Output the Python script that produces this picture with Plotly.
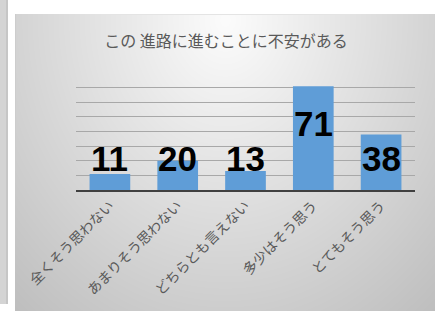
import base64
import struct
import zlib

import numpy as np
import plotly.graph_objects as go

# ---------------- data ----------------
categories = ["全くそう思わない", "あまりそう思わない", "どちらとも言えない", "多少はそう思う", "とてもそう思う"]
values = [11, 20, 13, 71, 38]
title_text = "この 進路に進むことに不安がある"

# label anchor heights (data units) as placed in the original chart
label_y = [21.5, 21.5, 21.5, 45.5, 21.5]

# ---------------- geometry ----------------
W, H = 438, 311
L, R, T, B = 76, 23, 73, 121
pw, ph = W - L - R, H - T - B


def png_data_uri(rgb):
    h, w, _ = rgb.shape
    raw = b"".join(b"\x00" + rgb[i].tobytes() for i in range(h))

    def chunk(tag, data):
        c = struct.pack(">I", len(data)) + tag + data
        return c + struct.pack(">I", zlib.crc32(tag + data) & 0xFFFFFFFF)

    png = b"\x89PNG\r\n\x1a\n"
    png += chunk(b"IHDR", struct.pack(">IIBBBBB", w, h, 8, 2, 0, 0, 0))
    png += chunk(b"IDAT", zlib.compress(raw, 9))
    png += chunk(b"IEND", b"")
    return "data:image/png;base64," + base64.b64encode(png).decode()


# background canvas: left grey strip, white gap, gradient panel
canvas = np.full((H, W), 255.0)
canvas[0:304, 0:8] = 212.0
canvas[0:304, 6:8] = 198.0
px0, py0, px1, py1 = 15, 14, 435, H
yy, xx = np.mgrid[0:py1 - py0, 0:px1 - px0]
nx = xx / (px1 - px0) - 0.5
ny = yy / (py1 - py0) - 0.02
d = np.sqrt((nx / 0.62) ** 2 + (ny / 1.05) ** 2)
panel = 252 - 50 * d
canvas[py0:py1, px0:px1] = panel
canvas[py0, px0:px1] = np.minimum(canvas[py0, px0:px1], 228)
canvas[py0:py1, px0] = np.minimum(canvas[py0:py1, px0], 205)
rgb = np.clip(canvas, 0, 255).astype(np.uint8)
rgb = np.stack([rgb, rgb, rgb], axis=-1)
bg_uri = png_data_uri(rgb)

fig = go.Figure()
fig.add_trace(
    go.Bar(
        x=categories,
        y=values,
        marker=dict(color="#5f9dd7", line=dict(width=0)),
        width=0.6,
        hoverinfo="x+y",
    )
)

for c, v, ly in zip(categories, values, label_y):
    fig.add_annotation(
        x=c, y=ly, text=str(v), showarrow=False, yanchor="middle",
        font=dict(family="Liberation Sans", size=35, color="#000000", weight="bold"),
    )

fig.add_layout_image(
    dict(
        source=bg_uri,
        xref="paper", yref="paper",
        x=-L / pw, y=1 + T / ph,
        sizex=W / pw, sizey=H / ph,
        xanchor="left", yanchor="top",
        sizing="stretch", layer="below",
    )
)

fig.update_layout(
    width=W, height=H,
    margin=dict(l=L, r=R, t=T, b=B, autoexpand=False),
    paper_bgcolor="#ffffff",
    plot_bgcolor="rgba(0,0,0,0)",
    showlegend=False,
    title=dict(
        text=title_text, x=226 / W, y=1 - 41 / H, xref="container", yref="container",
        xanchor="center", yanchor="middle",
        font=dict(family="Noto Sans CJK JP", size=16, color="#595959"),
    ),
    xaxis=dict(
        tickangle=-45, automargin=False,
        tickfont=dict(family="Noto Sans CJK JP", size=14, color="#595959"),
        showline=True, linecolor="#404040", linewidth=2,
        ticks="", showgrid=False,
    ),
    yaxis=dict(
        range=[0, 80], dtick=10, showticklabels=False, automargin=False,
        showgrid=True, gridcolor="#a8a8a8", gridwidth=1.3,
        zeroline=False, showline=False, ticks="",
    ),
)

fig.write_html(
    "out.html",
    config={"displayModeBar": False},
    post_script="document.body.style.margin='0';document.body.style.overflow='hidden';",
)
